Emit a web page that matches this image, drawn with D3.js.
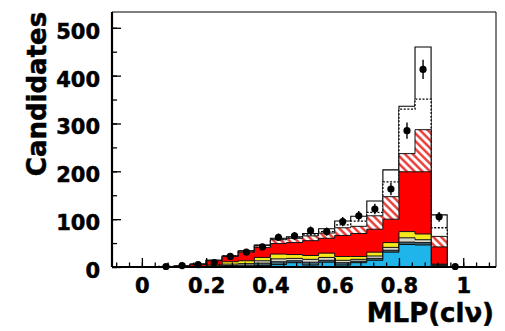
<!DOCTYPE html>
<html>
<head>
<meta charset="utf-8">
<script src="https://cdn.jsdelivr.net/npm/d3@7"></script>
<style>
  html, body { margin: 0; padding: 0; background: #fff; }
  svg text { font-family: "DejaVu Sans", sans-serif; font-weight: bold; fill: #000; stroke: #000; stroke-width: 0.5px; }
</style>
</head>
<body>
<svg id="chart" width="505" height="331"></svg>
<script>
// Bin lower edges of the MLP(clν) histogram (width 0.05)
const binEdges = [0.05, 0.10, 0.15, 0.20, 0.25, 0.30, 0.35, 0.40, 0.45, 0.50,
                  0.55, 0.60, 0.65, 0.70, 0.75, 0.80, 0.85, 0.90, 0.95];
const binWidth = 0.05;

// Stacked components, bottom to top
const cyanVals   = [0, 0, 0, 0, 0, 0, 3, 5, 9, 4, 10, 4, 9, 14, 31, 47, 46, 2, 0];
const darkVals   = [0, 0, 0, 1, 3, 4, 5, 6, 4, 6, 4, 5, 3, 4, 4, 5, 5, 2, 0];
const paleVals   = [0, 0, 0, 1, 3, 3, 5, 6, 5, 6, 6, 5, 4, 5, 6, 9, 6, 1, 0];
const yellowVals = [0, 0, 0, 2, 5, 6, 7, 10, 8, 8, 9, 8, 6, 8, 10, 13, 12, 1, 0];
const redVals    = [1, 2, 5, 9, 11, 18, 21, 22, 25, 31, 31, 44, 48, 48, 49, 125, 130, 36, 0];
const hatchVals  = [0, 0, 1, 1, 1, 2, 4, 8, 9, 10, 11, 16, 15, 28, 47, 38, 88, 22, 0];

// Overlaid totals
const dottedTotal = [1, 2, 6, 14, 23, 33, 45, 58, 61, 67, 74, 88, 96, 114, 178, 330, 351, 82, 0];
const solidTotal  = [1, 2, 6, 14, 23, 34, 46, 60, 63, 70, 80, 96, 106, 138, 203, 336, 460, 109, 1];

// Data points with errors, at bin centres
const dataVals = [1, 3, 5, 9, 22, 31, 42, 62, 65, 76, 74, 95, 107, 121, 163, 285, 413, 105, 1];
const dataErrs = [1, 1.7, 2.2, 3, 4.7, 5.6, 6.5, 7.9, 8.1, 8.7, 8.6, 9.7, 10.3, 11, 12.8, 16.9, 20.3, 10.2, 1];

// Axis ticks
const xMajorTicks = [0, 0.2, 0.4, 0.6, 0.8, 1];
const xTickLabels = ["0", "0.2", "0.4", "0.6", "0.8", "1"];
const yMajorTicks = [0, 100, 200, 300, 400, 500];
const yTickLabels = ["0", "100", "200", "300", "400", "500"];

const svg = d3.select("#chart");
const L = 112, R = 496, T = 12, B = 267;

const x = d3.scaleLinear().domain([-0.093, 1.102]).range([L, R]);
const y = d3.scaleLinear().domain([0, 533]).range([B, T]);

// Hatch pattern: red diagonal stripes on white
const defs = svg.append("defs");
const pat = defs.append("pattern")
  .attr("id", "hatch")
  .attr("patternUnits", "userSpaceOnUse")
  .attr("width", 5.5).attr("height", 5.5)
  .attr("patternTransform", "rotate(-45)");
pat.append("rect").attr("width", 5.5).attr("height", 5.5).attr("fill", "#fff");
pat.append("line").attr("x1", 1.4).attr("y1", 0).attr("x2", 1.4).attr("y2", 5.5)
  .attr("stroke", "#e8302c").attr("stroke-width", 2.3);

// Stack the components
const keys = ["cyan", "dark", "pale", "yellow", "red", "hatch"];
const rows = binEdges.map((e, i) => ({
  cyan: cyanVals[i], dark: darkVals[i], pale: paleVals[i],
  yellow: yellowVals[i], red: redVals[i], hatch: hatchVals[i]
}));
const stacked = d3.stack().keys(keys)(rows);

// Step outline from 0 up to a cumulative top per bin
const stepArea = d3.area()
  .curve(d3.curveStepAfter)
  .x(d => x(d.e))
  .y0(y(0))
  .y1(d => y(d.v));

function stepData(tops) {
  const pts = binEdges.map((e, i) => ({ e: e, v: tops[i] }));
  pts.push({ e: binEdges[binEdges.length - 1] + binWidth, v: tops[tops.length - 1] });
  return pts;
}

const gHist = svg.append("g");

// Solid total, then dotted total
gHist.append("path")
  .attr("d", stepArea(stepData(solidTotal)))
  .attr("fill", "#fff").attr("stroke", "#000").attr("stroke-width", 1.1);
gHist.append("path")
  .attr("d", stepArea(stepData(dottedTotal)))
  .attr("fill", "#fff").attr("stroke", "#000").attr("stroke-width", 1.3)
  .attr("stroke-dasharray", "2,1.6");

const fills = {
  hatch: "url(#hatch)", red: "#ff0000", yellow: "#f7ea1c",
  pale: "#d8d6c4", dark: "#3f6472", cyan: "#1fb5ea"
};

// Draw from the top of the stack down so each layer sits over the one above it
stacked.slice().reverse().forEach(layer => {
  const tops = layer.map(d => d[1]);
  gHist.append("path")
    .attr("d", stepArea(stepData(tops)))
    .attr("fill", fills[layer.key])
    .attr("stroke", "#111").attr("stroke-width", 1);
});

// Data points with error bars
const centers = binEdges.map(e => e + binWidth / 2);
const gPts = svg.append("g");
centers.forEach((c, i) => {
  gPts.append("line")
    .attr("x1", x(c)).attr("x2", x(c))
    .attr("y1", y(Math.max(0, dataVals[i] - dataErrs[i])))
    .attr("y2", y(dataVals[i] + dataErrs[i]))
    .attr("stroke", "#000").attr("stroke-width", 1.4);
  gPts.append("circle")
    .attr("cx", x(c)).attr("cy", y(dataVals[i]))
    .attr("r", 3.6).attr("fill", "#000");
});

// Frame
svg.append("line").attr("x1", L).attr("x2", R).attr("y1", T).attr("y2", T)
  .attr("stroke", "#000").attr("stroke-width", 1);
svg.append("line").attr("x1", R).attr("x2", R).attr("y1", T).attr("y2", B)
  .attr("stroke", "#000").attr("stroke-width", 1);

// X axis: minor ticks every 0.04, major every 0.2, ticks pointing inward
const xMinor = d3.range(-0.08, 1.1, 0.04).map(v => +v.toFixed(2));
const gxMinor = svg.append("g").attr("transform", `translate(0,${B})`)
  .call(d3.axisBottom(x).tickValues(xMinor).tickSize(-4.5).tickFormat(""));
const gx = svg.append("g").attr("transform", `translate(0,${B})`)
  .call(d3.axisBottom(x).tickValues(xMajorTicks).tickSize(-9)
    .tickFormat((d, i) => xTickLabels[i]));
[gxMinor, gx].forEach(g => {
  g.select(".domain").remove();
  g.selectAll("line").attr("stroke", "#000").attr("stroke-width", 1.3);
});
gx.selectAll("text")
  .attr("y", 26).attr("dy", null)
  .style("font-size", "21px").style("font-family", "DejaVu Sans").style("font-weight", "bold");

// Y axis: minor ticks every 50, major every 100
const yMinor = d3.range(0, 550, 50);
const gyMinor = svg.append("g").attr("transform", `translate(${L},0)`)
  .call(d3.axisLeft(y).tickValues(yMinor).tickSize(-5).tickFormat(""));
const gy = svg.append("g").attr("transform", `translate(${L},0)`)
  .call(d3.axisLeft(y).tickValues(yMajorTicks).tickSize(-9)
    .tickFormat((d, i) => yTickLabels[i]));
[gyMinor, gy].forEach(g => {
  g.select(".domain").remove();
  g.selectAll("line").attr("stroke", "#000").attr("stroke-width", 1.3);
});
gy.selectAll("text")
  .attr("x", -12).attr("dy", "0.5em")
  .style("font-size", "21px").style("font-family", "DejaVu Sans").style("font-weight", "bold");

// Axis lines
svg.append("line").attr("x1", L).attr("x2", R).attr("y1", B).attr("y2", B)
  .attr("stroke", "#000").attr("stroke-width", 2.2);
svg.append("line").attr("x1", L).attr("x2", L).attr("y1", T).attr("y2", B)
  .attr("stroke", "#000").attr("stroke-width", 2.2);

// Axis titles
svg.append("text")
  .attr("x", 494).attr("y", 322)
  .attr("text-anchor", "end")
  .style("font-size", "26px")
  .text("MLP(clν)");
svg.append("text")
  .attr("transform", "translate(46,94) rotate(-90)")
  .attr("text-anchor", "middle")
  .style("font-size", "26px")
  .text("Candidates");
</script>
</body>
</html>
